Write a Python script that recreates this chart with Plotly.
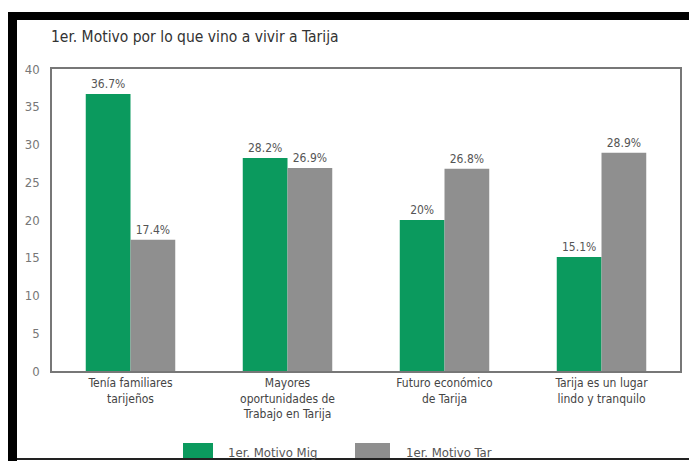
import plotly.graph_objects as go

categories = [
    "Tenía familiares<br>tarijeños",
    "Mayores<br>oportunidades de<br>Trabajo en Tarija",
    "Futuro económico<br>de Tarija",
    "Tarija es un lugar<br>lindo y tranquilo",
]
series_names = ["1er. Motivo Mig", "1er. Motivo Tar"]
mig_values = [36.7, 28.2, 20.0, 15.1]
tar_values = [17.4, 26.9, 26.8, 28.9]
mig_labels = ["36.7%", "28.2%", "20%", "15.1%"]
tar_labels = ["17.4%", "26.9%", "26.8%", "28.9%"]
y_ticks = [0, 5, 10, 15, 20, 25, 30, 35, 40]

GREEN = "#0b9a5e"
GRAY = "#8f8f8f"
FONT = "DejaVu Sans Condensed"

# page offset of the figure (browser body margin)
OFF = 8
W, H = 697 - OFF, 461 - OFF
# plot area in page pixels: left 52, right 680, top 69, bottom 371
ML, MT = 52 - OFF, 69 - OFF
MR = W - (680 - OFF)
MB = H - (371 - OFF)
PW, PH = W - ML - MR, H - MT - MB

def px(x):  # page pixel -> paper x
    return (x - OFF - ML) / PW

def py(y):  # page pixel -> paper y
    return (H - MB - (y - OFF)) / PH

fig = go.Figure()
fig.add_trace(go.Bar(x=categories, y=mig_values, name=series_names[0],
                     marker=dict(color=GREEN, line=dict(width=0)),
                     text=mig_labels, textposition="outside", cliponaxis=False,
                     textfont=dict(family=FONT, size=12, color="#555")))
fig.add_trace(go.Bar(x=categories, y=tar_values, name=series_names[1],
                     marker=dict(color=GRAY, line=dict(width=0)),
                     text=tar_labels, textposition="outside", cliponaxis=False,
                     textfont=dict(family=FONT, size=12, color="#555")))

shapes = [
    dict(type="rect", xref="paper", yref="paper", x0=px(8), x1=px(697), y0=py(20), y1=py(12),
         fillcolor="black", line=dict(width=0), layer="above"),
    dict(type="rect", xref="paper", yref="paper", x0=px(8), x1=px(17), y0=py(461), y1=py(12),
         fillcolor="black", line=dict(width=0), layer="above"),
    dict(type="line", xref="paper", yref="paper", x0=px(17), x1=px(697), y0=py(459), y1=py(459),
         line=dict(color="#222", width=2)),
    dict(type="rect", xref="paper", yref="paper", x0=px(183), x1=px(213), y0=py(458), y1=py(443),
         fillcolor=GREEN, line=dict(width=0)),
    dict(type="rect", xref="paper", yref="paper", x0=px(355), x1=px(390), y0=py(458), y1=py(443),
         fillcolor=GRAY, line=dict(width=0)),
]

annotations = [
    dict(text="1er. Motivo por lo que vino a vivir a Tarija", xref="paper", yref="paper",
         x=px(49), y=py(37), xanchor="left", yanchor="middle", showarrow=False,
         font=dict(family=FONT, size=15.5, color="#333")),
    dict(text=series_names[0], xref="paper", yref="paper", x=px(226), y=py(452),
         xanchor="left", yanchor="middle", showarrow=False,
         font=dict(family=FONT, size=13, color="#555")),
    dict(text=series_names[1], xref="paper", yref="paper", x=px(404), y=py(452),
         xanchor="left", yanchor="middle", showarrow=False,
         font=dict(family=FONT, size=13, color="#555")),
]

fig.update_layout(
    width=W, height=H,
    margin=dict(l=ML, r=MR, t=MT, b=MB),
    paper_bgcolor="white", plot_bgcolor="white",
    barmode="group", bargap=0.43, bargroupgap=0,
    showlegend=False,
    shapes=shapes, annotations=annotations,
    font=dict(family=FONT, size=12, color="#555"),
    xaxis=dict(showline=True, linecolor="#777", linewidth=1.5, mirror=True,
               ticks="", showgrid=False,
               tickfont=dict(family=FONT, size=12, color="#444")),
    yaxis=dict(range=[0, 40], tickvals=y_ticks, showline=True, linecolor="#777",
               linewidth=1.5, mirror=True, showgrid=False, zeroline=False,
               ticks="", ticklen=0, ticklabelstandoff=8,
               tickfont=dict(family=FONT, size=13, color="#777")),
)

fig.write_html("out.html")
